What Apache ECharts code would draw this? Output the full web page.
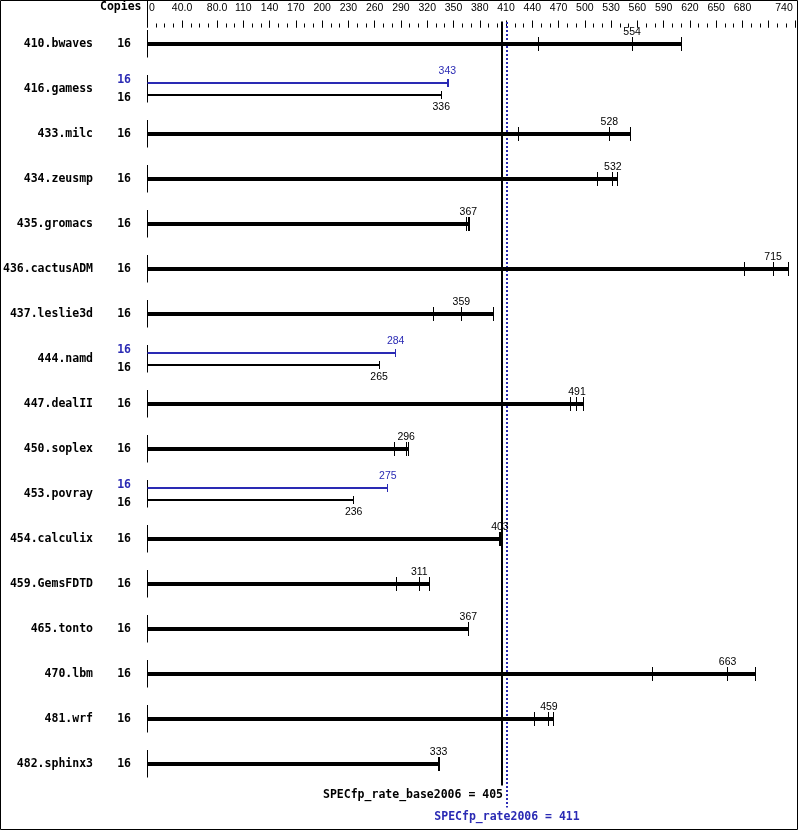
<!DOCTYPE html>
<html>
<head>
<meta charset="utf-8">
<script src="https://cdn.jsdelivr.net/npm/echarts@6/dist/echarts.min.js"></script>
<style>
html,body{margin:0;padding:0;background:#fff;}
#chart{width:799px;height:831px;}
</style>
</head>
<body>
<div id="chart"></div>
<script>
// ---- data ----
const benchmarks = ['410.bwaves','416.gamess','433.milc','434.zeusmp','435.gromacs','436.cactusADM','437.leslie3d','444.namd','447.dealII','450.soplex','453.povray','454.calculix','459.GemsFDTD','465.tonto','470.lbm','481.wrf','482.sphinx3'];
const baseCopies = [16,16,16,16,16,16,16,16,16,16,16,16,16,16,16,16,16];
const peakCopies = [null,16,null,null,null,null,null,16,null,null,16,null,null,null,null,null,null];
const baseMedian = [554,336,528,532,367,715,359,265,491,296,236,403,311,367,663,459,333];
const baseRuns = [[447,554,610],[336,336,336],[424,528,552],[514,532,537],[365,367,368],[682,715,733],[327,359,396],[265,265,265],[484,491,498],[283,296,299],[236,236,236],[402,403,404],[285,311,323],[367,367,367],[577,663,695],[442,459,464],[333,333,334]];
const peakMedian = [null,343,null,null,null,null,null,284,null,null,275,null,null,null,null,null,null];
const peakRuns = [null,[343,343,344],null,null,null,null,null,[284,284,284],null,null,[275,275,275],null,null,null,null,null,null];
const overallBase = 405;
const overallPeak = 411;
const axisMax = 740;
const majorTicks = [0,40,80,110,140,170,200,230,260,290,320,350,380,410,440,470,500,530,560,590,620,650,680,710,740];
const majorLabels = ['0','40.0','80.0','110','140','170','200','230','260','290','320','350','380','410','440','470','500','530','560','590','620','650','680','','740'];

// ---- styling ----
const BLUE = '#2a2ab4';
const MONO = '"DejaVu Sans Mono", monospace';
const SANS = '"Liberation Sans", sans-serif';
const NUMSIZE = 10.5;

const minorTicks = [];
for (let v = 0; v <= axisMax; v += 10) minorTicks.push(String(v));
const majorSet = {};
majorTicks.forEach((v, k) => { majorSet[String(v)] = majorLabels[k]; });

function crisp(v, w) { return (w % 2) ? Math.floor(v) + 0.5 : Math.round(v); }

function barGroup(api, runs, median, yc, thick, color, labelAbove, children) {
  const x0 = crisp(api.coord([0, 0])[0], 1);
  const maxV = Math.max.apply(null, runs);
  const xEnd = api.coord([maxV, 0])[0];
  const lw = thick ? 4 : 2;
  const th = thick ? 7 : 4;
  children.push({type:'line', shape:{x1:x0, y1:yc, x2:xEnd, y2:yc}, style:{stroke:color, lineWidth:lw, lineCap:'butt'}});
  runs.forEach(r => {
    const x = crisp(api.coord([r, 0])[0], 1);
    children.push({type:'line', shape:{x1:x, y1:yc - th, x2:x, y2:yc + th}, style:{stroke:color, lineWidth:1}});
  });
  const xm = api.coord([median, 0])[0];
  children.push({type:'text', style:{text:String(median), x:xm, y: labelAbove ? yc - 12 : yc + 12,
    align:'center', verticalAlign:'middle', fontSize:NUMSIZE, fontFamily:SANS, fill:color}});
}

const chart = echarts.init(document.getElementById('chart'), null, {renderer:'canvas'});

const option = {
  animation:false,
  backgroundColor:'#fff',
  grid:{left:147, right:4, top:21.5, height:765, containLabel:false, outerBoundsMode:'none'},
  xAxis:[
    {type:'value', min:0, max:axisMax, show:false, position:'top', splitLine:{show:false}},
    {type:'category', data:minorTicks, boundaryGap:false, position:'top', offset:-6,
      axisLine:{show:false}, splitLine:{show:false},
      axisTick:{show:true, interval:0, length:4, lineStyle:{color:'#000', width:1}},
      axisLabel:{show:false}},
    {type:'category', data:minorTicks, boundaryGap:false, position:'top', offset:-6,
      axisLine:{show:false}, splitLine:{show:false},
      axisTick:{show:true, length:7, interval:(idx, val) => majorSet[val] !== undefined, lineStyle:{color:'#000', width:1}},
      axisLabel:{show:true, margin:14, interval:(idx, val) => majorSet[val] !== undefined,
        fontSize:NUMSIZE, fontFamily:SANS, color:'#000',
        formatter:(val) => {
          const t = majorSet[val];
          if (val === '0') return '{z|0}';
          if (val === String(axisMax)) return '{e|' + t + '}';
          return t;
        },
        rich:{z:{fontSize:NUMSIZE, fontFamily:SANS, color:'#000', padding:[0,0,0,10]},
              e:{fontSize:NUMSIZE, fontFamily:SANS, color:'#000', padding:[0,22,0,0]}}}}
  ],
  yAxis:[
    {type:'category', data:benchmarks, inverse:true, position:'left',
      axisLine:{show:false}, axisTick:{show:false}, splitLine:{show:false},
      axisLabel:{interval:0, margin:54, fontSize:11.5, fontWeight:'bold', fontFamily:MONO, color:'#000'}},
    {type:'category', data:benchmarks, inverse:true, position:'left',
      axisLine:{show:false}, axisTick:{show:false}, splitLine:{show:false},
      axisLabel:{interval:0, margin:16,
        formatter:(val, idx) => peakCopies[idx] != null
          ? '{p|' + peakCopies[idx] + '}\n{b|' + baseCopies[idx] + '}'
          : '{b|' + baseCopies[idx] + '}',
        rich:{p:{fontSize:11.5, fontWeight:'bold', fontFamily:MONO, color:BLUE, lineHeight:18},
              b:{fontSize:11.5, fontWeight:'bold', fontFamily:MONO, color:'#000', lineHeight:18}}}}
  ],
  series:[
    {
      type:'custom', name:'overall', xAxisIndex:0, yAxisIndex:0, z:1,
      data:[[overallBase, 0, 0], [overallPeak, 0, 1]],
      encode:{x:0, y:1},
      renderItem:(params, api) => {
        const cs = params.coordSys;
        const isPeak = api.value(2) === 1;
        const v = api.value(0);
        const top = cs.y, bottom = cs.y + cs.height;
        if (!isPeak) {
          const x = crisp(api.coord([v, 0])[0], 2);
          return {type:'group', children:[
            {type:'line', shape:{x1:x, y1:top, x2:x, y2:bottom - 1}, style:{stroke:'#000', lineWidth:2}},
            {type:'text', style:{text:'SPECfp_rate_base2006 = ' + v, x:x + 1, y:bottom + 9, align:'right', verticalAlign:'middle',
              fontSize:11.5, fontWeight:'bold', fontFamily:MONO, fill:'#000'}}
          ]};
        }
        const x = crisp(api.coord([v, 0])[0], 2);
        return {type:'group', children:[
          {type:'line', shape:{x1:x, y1:top + 0.5, x2:x, y2:bottom + 21}, style:{stroke:BLUE, lineWidth:2, lineDash:[2,2]}},
          {type:'text', style:{text:'SPECfp_rate2006 = ' + v, x:x, y:bottom + 31, align:'center', verticalAlign:'middle',
            fontSize:11.5, fontWeight:'bold', fontFamily:MONO, fill:BLUE}}
        ]};
      }
    },
    {
      type:'custom', name:'runs', xAxisIndex:0, yAxisIndex:0, z:2,
      data: benchmarks.map((b, i) => [Math.max.apply(null, baseRuns[i]), i]),
      encode:{x:0, y:1},
      renderItem:(params, api) => {
        const i = params.dataIndex;
        const yc = Math.round(api.coord([0, i])[1]);
        const x0 = crisp(api.coord([0, i])[0], 1);
        const children = [];
        children.push({type:'line', shape:{x1:x0, y1:yc - 14, x2:x0, y2:yc + 13.5}, style:{stroke:'#000', lineWidth:1}});
        if (peakRuns[i]) {
          barGroup(api, peakRuns[i], peakMedian[i], yc - 6, false, BLUE, true, children);
          barGroup(api, baseRuns[i], baseMedian[i], yc + 6, false, '#000', false, children);
        } else {
          barGroup(api, baseRuns[i], baseMedian[i], yc, true, '#000', true, children);
        }
        return {type:'group', children};
      }
    }
  ]
};
chart.setOption(option);

const xZero = crisp(chart.convertToPixel({xAxisIndex:0}, 0), 1);
chart.setOption({
  graphic:[
    {type:'rect', shape:{x:0.5, y:0.5, width:797, height:829}, style:{fill:'none', stroke:'#000', lineWidth:1}, silent:true},
    {type:'line', shape:{x1:xZero, y1:0, x2:xZero, y2:22}, style:{stroke:'#000', lineWidth:1}, silent:true},
    {type:'text', left:100, top:1, style:{text:'Copies', fontSize:11.5, fontWeight:'bold', fontFamily:MONO, fill:'#000'}, silent:true}
  ]
});
</script>
</body>
</html>
